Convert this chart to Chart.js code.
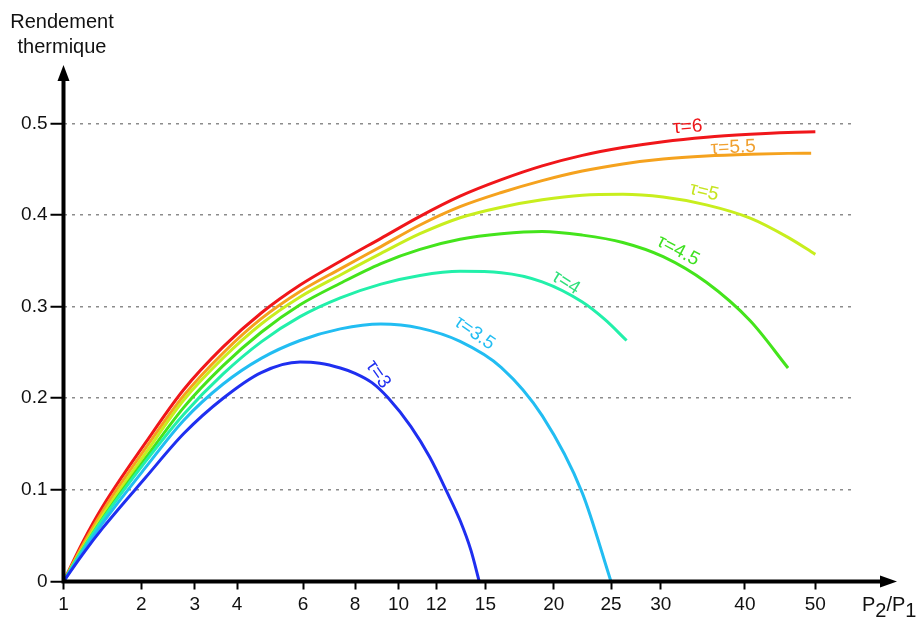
<!DOCTYPE html>
<html>
<head>
<meta charset="utf-8">
<script src="https://cdn.jsdelivr.net/npm/chart.js@4.4.0/dist/chart.umd.min.js"></script>
<style>
  html, body { margin: 0; padding: 0; background: #fff; }
</style>
</head>
<body>
<canvas id="chart" width="921" height="617"></canvas>
<script>
// x axis ticks (pressure ratio) and y axis ticks (efficiency)
const xTicks = [1, 2, 3, 4, 6, 8, 10, 12, 15, 20, 25, 30, 40, 50];
const yTicks = [0, 0.1, 0.2, 0.3, 0.4, 0.5];

// one curve per temperature ratio tau
const tau3X = [1, 1.202, 1.445, 2.07, 2.769, 3.647, 4.666, 5.896, 6.6, 7.393, 8, 8.74, 9.49, 10.63, 11.64, 12.59, 13.41, 14.07, 14.6];
const tau3Y = [0, 0.0297, 0.0585, 0.1135, 0.1615, 0.2, 0.228, 0.2395, 0.2382, 0.233, 0.2272, 0.217, 0.2005, 0.169, 0.1355, 0.0986, 0.066, 0.034, 0];

const tau35X = [1, 1.202, 1.445, 2.07, 2.769, 3.647, 4.666, 5.896, 7.393, 9.156, 11.105, 13.396, 16.08, 19.08, 22.4, 25];
const tau35Y = [0, 0.0324, 0.064, 0.1245, 0.176, 0.2155, 0.2435, 0.263, 0.2757, 0.281, 0.2765, 0.262, 0.2335, 0.181, 0.0965, 0];

const tau4X = [1, 1.202, 1.445, 2.07, 2.769, 3.647, 4.666, 5.896, 7.393, 9.156, 11.105, 13.396, 16.08, 19.08, 22.4, 24.42, 26.5];
const tau4Y = [0, 0.0346, 0.068, 0.131, 0.1825, 0.2265, 0.2615, 0.289, 0.3095, 0.3245, 0.334, 0.3385, 0.337, 0.327, 0.305, 0.286, 0.263];

const tau45X = [1, 1.202, 1.445, 2.07, 2.769, 3.647, 4.666, 5.896, 7.393, 9.156, 11.105, 13.396, 16.08, 19.08, 22.4, 26.13, 30.26, 35.17, 40.7, 45.94];
const tau45Y = [0, 0.0349, 0.069, 0.1345, 0.19, 0.2355, 0.272, 0.302, 0.3255, 0.347, 0.3625, 0.3735, 0.3795, 0.382, 0.378, 0.37, 0.3545, 0.3265, 0.2845, 0.233];

const tau5X = [1, 1.202, 1.445, 2.07, 2.769, 3.647, 4.666, 5.896, 7.393, 9.156, 11.105, 13.396, 16.08, 19.08, 22.4, 26.13, 30.26, 35.17, 40.7, 45.94, 50];
const tau5Y = [0, 0.0369, 0.0725, 0.14, 0.198, 0.244, 0.281, 0.3105, 0.3345, 0.358, 0.3795, 0.397, 0.4085, 0.4165, 0.4215, 0.4225, 0.4195, 0.411, 0.3965, 0.3755, 0.357];

const tau55X = [1, 1.202, 1.445, 2.07, 2.769, 3.647, 4.666, 5.896, 7.393, 9.156, 11.105, 13.396, 16.08, 19.08, 22.4, 26.13, 30.26, 35.17, 40.7, 45.94, 49.36];
const tau55Y = [0, 0.0396, 0.077, 0.1455, 0.203, 0.2494, 0.2868, 0.3165, 0.3412, 0.3655, 0.389, 0.409, 0.4245, 0.4375, 0.448, 0.4557, 0.461, 0.4643, 0.4662, 0.4672, 0.4674];

const tau6X = [1, 1.202, 1.445, 2.07, 2.769, 3.647, 4.666, 5.896, 7.393, 9.156, 11.105, 13.396, 16.08, 19.08, 22.4, 26.13, 30.26, 35.17, 40.7, 45.94, 50];
const tau6Y = [0, 0.0426, 0.082, 0.1515, 0.2095, 0.256, 0.293, 0.3235, 0.3495, 0.3745, 0.3985, 0.4205, 0.4385, 0.4535, 0.465, 0.4735, 0.48, 0.4848, 0.488, 0.49, 0.4907];

const tauLabels = ['τ=3', 'τ=3.5', 'τ=4', 'τ=4.5', 'τ=5', 'τ=5.5', 'τ=6'];

const curves = [
  [tau3X, tau3Y, '#1f2ff0', '#1f2ff0'],
  [tau35X, tau35Y, '#22bdf2', '#22bdf2'],
  [tau4X, tau4Y, '#22f0aa', '#2ee07a'],
  [tau45X, tau45Y, '#44e41c', '#3ee020'],
  [tau5X, tau5Y, '#c8ee1e', '#c6e41e'],
  [tau55X, tau55Y, '#f5a21e', '#f0a030'],
  [tau6X, tau6Y, '#f0161a', '#f0161a']
];

// where each tau label sits (data coords) and its tilt in degrees
const labelSpots = [
  [9.02, 0.226, 55], [14.3, 0.271, 35], [21.0, 0.326, 32], [31.9, 0.361, 28],
  [34.9, 0.425, 14], [38.5, 0.4735, -3], [33.0, 0.496, -4]
];

const EXP = 0.3;
class PowerScale extends Chart.LinearScale {
  getPixelForValue(value) {
    const a = Math.pow(this.min, EXP), b = Math.pow(this.max, EXP);
    return this.getPixelForDecimal((Math.pow(value, EXP) - a) / (b - a));
  }
  getValueForPixel(pixel) {
    const a = Math.pow(this.min, EXP), b = Math.pow(this.max, EXP);
    return Math.pow(a + this.getDecimalForPixel(pixel) * (b - a), 1 / EXP);
  }
}
PowerScale.id = 'power';
PowerScale.defaults = Chart.LinearScale.defaults;
Chart.register(PowerScale);

const FONT = '"Liberation Sans", Arial, sans-serif';

const decor = {
  id: 'decor',
  afterDraw(chart) {
    const c = chart.ctx;
    const xs = chart.scales.x, ys = chart.scales.y;
    const ox = xs.left, oy = ys.bottom;
    c.save();
    // axes with arrows
    c.strokeStyle = '#000';
    c.fillStyle = '#000';
    c.lineWidth = 4;
    c.beginPath();
    c.moveTo(ox, oy + 2);
    c.lineTo(ox, 78);
    c.moveTo(ox - 2, oy);
    c.lineTo(884, oy);
    c.stroke();
    c.beginPath();
    c.moveTo(ox, 65);
    c.lineTo(ox - 6, 81);
    c.lineTo(ox + 6, 81);
    c.closePath();
    c.fill();
    c.beginPath();
    c.moveTo(897, oy);
    c.lineTo(880, oy - 6);
    c.lineTo(880, oy + 6);
    c.closePath();
    c.fill();

    // axis titles
    c.fillStyle = '#111';
    c.textAlign = 'center';
    c.textBaseline = 'alphabetic';
    c.font = '20px ' + FONT;
    c.fillText('Rendement', 62, 28);
    c.fillText('thermique', 62, 53);
    c.textAlign = 'left';
    let px = 862;
    const parts = [['P', 0], ['2', 6], ['/P', 0], ['1', 6]];
    parts.forEach(([t, dy]) => {
      c.fillText(t, px, 611 + dy);
      px += c.measureText(t).width;
    });

    // tau labels
    c.font = '19px ' + FONT;
    c.textAlign = 'center';
    c.textBaseline = 'middle';
    labelSpots.forEach(([lx, ly, ang], i) => {
      c.save();
      c.translate(xs.getPixelForValue(lx), ys.getPixelForValue(ly));
      c.rotate(ang * Math.PI / 180);
      c.fillStyle = curves[i][3];
      c.fillText(tauLabels[i], 0, 0);
      c.restore();
    });
    c.restore();
  }
};

new Chart(document.getElementById('chart'), {
  type: 'line',
  data: {
    datasets: curves.map(([xv, yv, col], i) => ({
      label: tauLabels[i],
      data: xv.map((x, j) => ({ x: x, y: yv[j] })),
      borderColor: col,
      borderWidth: 3,
      pointRadius: 0,
      fill: false,
      cubicInterpolationMode: 'monotone'
    }))
  },
  options: {
    responsive: false,
    animation: false,
    layout: { padding: { top: 77.5, right: 68, bottom: 0, left: 0 } },
    plugins: { legend: { display: false }, tooltip: { enabled: false } },
    scales: {
      x: {
        type: 'power',
        min: 1,
        max: 56,
        afterBuildTicks: s => { s.ticks = xTicks.map(v => ({ value: v })); },
        afterFit: s => { s.height = 35.5; },
        grid: { drawOnChartArea: false, tickLength: 8, tickColor: '#000', tickWidth: 2 },
        border: { display: false },
        ticks: {
          autoSkip: false, maxRotation: 0, padding: 4, color: '#111',
          font: { size: 19, family: FONT },
          callback: v => String(v)
        }
      },
      y: {
        min: 0,
        max: 0.55,
        afterBuildTicks: s => { s.ticks = yTicks.map(v => ({ value: v })); },
        afterFit: s => { s.width = 63.5; },
        grid: {
          color: ctx => (ctx.tick && ctx.tick.value === 0) ? 'rgba(0,0,0,0)' : '#8c8c8c',
          lineWidth: 1.5, tickLength: 13, tickColor: '#000', tickWidth: 2
        },
        border: { display: false, dash: [3, 5] },
        ticks: {
          padding: 3, color: '#111',
          font: { size: 19, family: FONT },
          callback: v => String(v)
        }
      }
    }
  },
  plugins: [decor]
});
</script>
</body>
</html>
